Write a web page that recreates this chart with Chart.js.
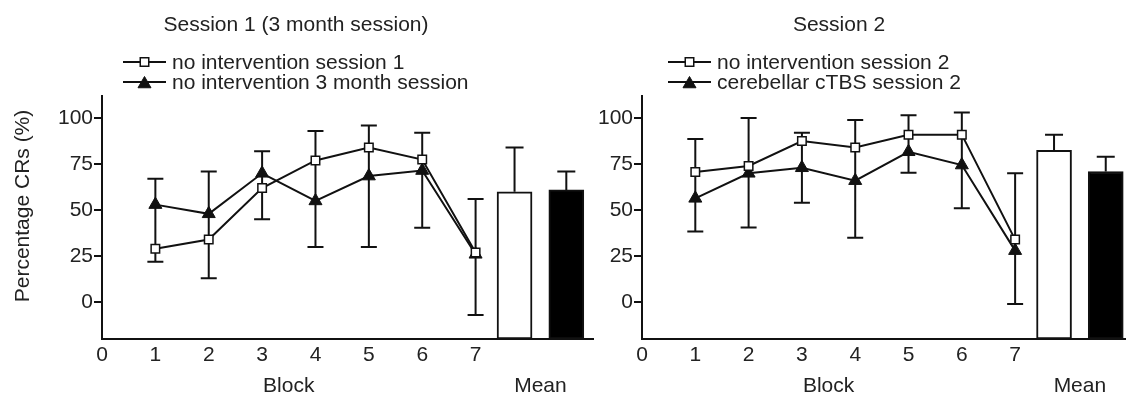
<!DOCTYPE html>
<html>
<head>
<meta charset="utf-8">
<script src="https://cdn.jsdelivr.net/npm/chart.js@4"></script>
<style>
  html, body { margin: 0; padding: 0; background: #fff; }
  .wrap { position: relative; width: 1126px; height: 394px; overflow: hidden; }
  canvas { position: absolute; top: 0; }
  #leftChart { left: 0; }
  #rightChart { left: 595px; }
</style>
</head>
<body>
<div class="wrap">
  <canvas id="leftChart" width="595" height="394"></canvas>
  <canvas id="rightChart" width="531" height="394"></canvas>
</div>
<script>
// Eyeblink conditioning - percentage CRs per block, two sessions

const blocks = [1, 2, 3, 4, 5, 6, 7];
const xTicks = [0, 1, 2, 3, 4, 5, 6, 7];
const yTicks = [0, 25, 50, 75, 100];
const meanPos = [7.73, 8.7];

// Session 1 (3 month session)
const s1Labels = ['no intervention session 1', 'no intervention 3 month session'];
const s1Square = [29, 34, 62, 77, 84, 77.5, 27];
const s1SquareErr = [7, 21, 17, 16, 12, 14.5, 29];
const s1Triangle = [53, 48, 70, 55, 68.5, 71.5, 26];
const s1TriangleErr = [14, 23, 12, 25, 38.5, 31, 33];
const s1Means = [60, 61];
const s1MeanErr = [24, 10];

// Session 2
const s2Labels = ['no intervention session 2', 'cerebellar cTBS session 2'];
const s2Square = [70.7, 74, 87.5, 84, 91, 91, 34];
const s2SquareErr = [18, 26, 4.5, 15, 10.5, 12, 36];
const s2Triangle = [56.4, 70, 73, 66, 81.7, 74.5, 28];
const s2TriangleErr = [18, 29.4, 19, 31, 11.4, 23.5, 29];
const s2Means = [82.5, 71];
const s2MeanErr = [8.5, 8];

const INK = '#111';
Chart.defaults.font.family = '"Liberation Sans", Arial, sans-serif';
Chart.defaults.font.size = 21;
Chart.defaults.color = '#222';

function cap(ctx, x, y, w) {
    ctx.moveTo(x - w / 2, y);
    ctx.lineTo(x + w / 2, y);
}

// error bars: upper series gets the bar upward, lower series downward
const errorBars = {
    id: 'errorBars',
    beforeDatasetsDraw(chart, args, opts) {
        const { ctx, scales: { x, y } } = chart;
        ctx.save();
        ctx.strokeStyle = INK;
        ctx.lineWidth = 2;
        ctx.beginPath();
        blocks.forEach((b, i) => {
            const sq = opts.square[i], tr = opts.triangle[i];
            const sqUp = sq >= tr;
            const top = sqUp ? sq + opts.squareErr[i] : tr + opts.triangleErr[i];
            const bottom = sqUp ? tr - opts.triangleErr[i] : sq - opts.squareErr[i];
            const px = x.getPixelForValue(b);
            const yTop = y.getPixelForValue(top);
            const yBot = y.getPixelForValue(bottom);
            ctx.moveTo(px, yTop);
            ctx.lineTo(px, yBot);
            cap(ctx, px, yTop, 16);
            cap(ctx, px, yBot, 16);
        });
        ctx.stroke();
        ctx.restore();
    },
    afterDatasetsDraw(chart, args, opts) {
        const { ctx, scales: { x, y } } = chart;
        ctx.save();
        ctx.strokeStyle = INK;
        ctx.lineWidth = 2;
        ctx.beginPath();
        meanPos.forEach((m, i) => {
            const px = x.getPixelForValue(m);
            const y0 = y.getPixelForValue(opts.means[i]);
            const y1 = y.getPixelForValue(opts.means[i] + opts.meanErr[i]);
            ctx.moveTo(px, y0);
            ctx.lineTo(px, y1);
            cap(ctx, px, y1, 18);
        });
        ctx.stroke();
        ctx.restore();
    }
};

// titles, legend and axis captions
const panelText = {
    id: 'panelText',
    afterDraw(chart, args, opts) {
        const { ctx, chartArea, scales: { x } } = chart;
        ctx.save();
        ctx.fillStyle = '#222';
        ctx.font = '21px "Liberation Sans", Arial, sans-serif';
        ctx.textBaseline = 'middle';
        ctx.textAlign = 'center';
        ctx.fillText(opts.title, opts.titleX, 25);

        ctx.textBaseline = 'alphabetic';
        ctx.fillText('Block', x.getPixelForValue(3.5), 392);
        ctx.fillText('Mean', x.getPixelForValue((meanPos[0] + meanPos[1]) / 2), 392);

        if (opts.yTitle) {
            ctx.save();
            ctx.translate(23, 206);
            ctx.rotate(-Math.PI / 2);
            ctx.textBaseline = 'middle';
            ctx.fillText(opts.yTitle, 0, 0);
            ctx.restore();
        }

        // legend rows
        const x0 = chartArea.left + opts.legendX;
        const styles = [
            { pointStyle: 'rect', radius: 6, borderWidth: 1.5, fill: '#fff' },
            { pointStyle: 'triangle', radius: 7.5, borderWidth: 1, fill: INK }
        ];
        opts.labels.forEach((label, i) => {
            const ly = 62 + i * 20;
            ctx.strokeStyle = INK;
            ctx.lineWidth = 2;
            ctx.beginPath();
            ctx.moveTo(x0, ly);
            ctx.lineTo(x0 + 43, ly);
            ctx.stroke();
            ctx.fillStyle = styles[i].fill;
            ctx.lineWidth = styles[i].borderWidth;
            Chart.helpers.drawPoint(ctx, styles[i], x0 + 21.5, ly + (i === 1 ? 2 : 0));
            ctx.fillStyle = '#222';
            ctx.textAlign = 'left';
            ctx.textBaseline = 'middle';
            ctx.fillText(label, x0 + 49, ly + 1);
        });
        ctx.restore();
    }
};

function makePanel(id, cfg) {
    const el = document.getElementById(id);
    if (!el) return;
    new Chart(el, {
        data: {
            datasets: [{
                type: 'line',
                label: cfg.labels[0],
                data: blocks.map((b, i) => ({ x: b, y: cfg.square[i] })),
                borderColor: INK,
                borderWidth: 2,
                backgroundColor: '#fff',
                pointStyle: 'rect',
                pointRadius: 6,
                pointBorderWidth: 1.5,
                pointBorderColor: INK,
                pointBackgroundColor: '#fff',
                tension: 0
            }, {
                type: 'line',
                label: cfg.labels[1],
                data: blocks.map((b, i) => ({ x: b, y: cfg.triangle[i] })),
                borderColor: INK,
                borderWidth: 2,
                backgroundColor: INK,
                pointStyle: 'triangle',
                pointRadius: 7.5,
                pointBorderWidth: 1,
                pointBorderColor: INK,
                pointBackgroundColor: INK,
                tension: 0
            }, {
                type: 'bar',
                label: 'Mean',
                data: meanPos.map((m, i) => ({ x: m, y: cfg.means[i] })),
                backgroundColor: ['#fff', '#000'],
                borderColor: INK,
                borderWidth: 2,
                borderSkipped: false,
                barThickness: 35,
                base: -20,
                grouped: false
            }]
        },
        options: {
            responsive: false,
            animation: false,
            layout: { autoPadding: false, padding: { left: 0, top: 96, right: cfg.padRight, bottom: 0 } },
            plugins: {
                legend: { display: false },
                tooltip: { enabled: false },
                errorBars: cfg,
                panelText: cfg
            },
            scales: {
                x: {
                    type: 'linear',
                    min: 0,
                    max: cfg.xMax,
                    offset: false,
                    afterBuildTicks: s => { s.ticks = xTicks.map(v => ({ value: v })); },
                    afterFit: s => { s.height = 55; s.paddingLeft = 0; s.paddingRight = 0; },
                    grid: { display: false, drawTicks: false },
                    border: { display: true, color: INK, width: 2 },
                    ticks: { padding: 4, color: '#222', maxRotation: 0 }
                },
                y: {
                    min: -20,
                    max: 112,
                    afterBuildTicks: s => { s.ticks = yTicks.map(v => ({ value: v })); },
                    afterFit: s => { s.width = cfg.yWidth; },
                    grid: { display: true, drawOnChartArea: false, drawTicks: true, tickLength: 8, color: INK, lineWidth: 2 },
                    border: { display: true, color: INK, width: 2 },
                    ticks: { padding: 1, color: '#222' }
                }
            }
        },
        plugins: [errorBars, panelText]
    });
}

makePanel('leftChart', {
    title: 'Session 1 (3 month session)',
    titleX: 296,
    yTitle: 'Percentage CRs (%)',
    labels: s1Labels,
    legendX: 21,
    square: s1Square,
    squareErr: s1SquareErr,
    triangle: s1Triangle,
    triangleErr: s1TriangleErr,
    means: s1Means,
    meanErr: s1MeanErr,
    xMax: 9.2,
    yWidth: 102,
    padRight: 2
});

makePanel('rightChart', {
    title: 'Session 2',
    titleX: 244,
    yTitle: null,
    labels: s2Labels,
    legendX: 26,
    square: s2Square,
    squareErr: s2SquareErr,
    triangle: s2Triangle,
    triangleErr: s2TriangleErr,
    means: s2Means,
    meanErr: s2MeanErr,
    xMax: 9.08,
    yWidth: 47,
    padRight: 0
});
</script>
</body>
</html>
